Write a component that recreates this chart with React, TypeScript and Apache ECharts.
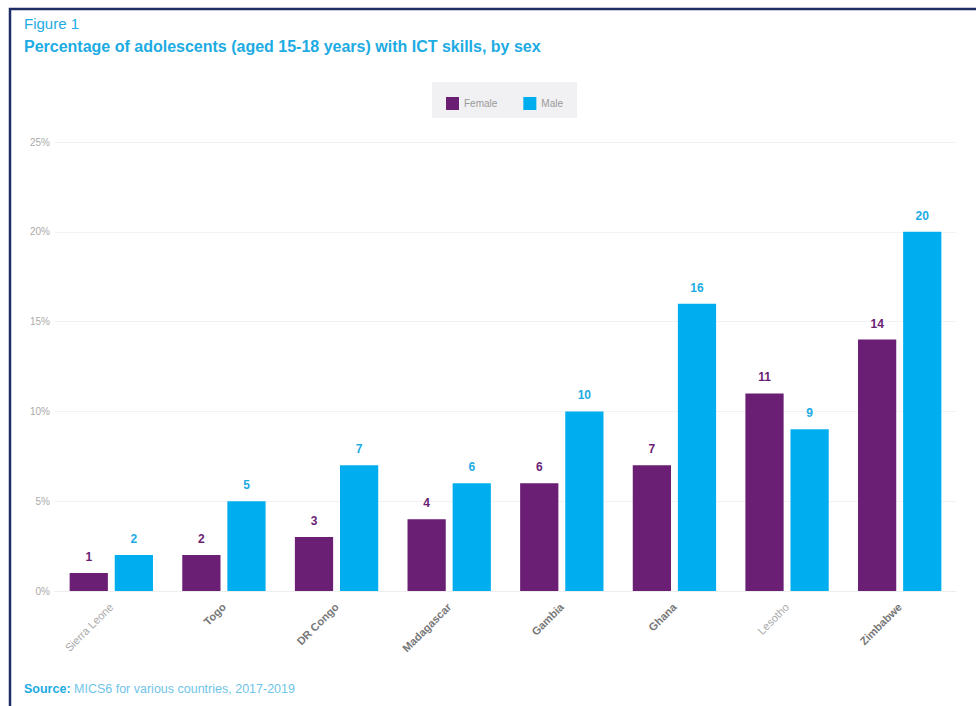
import React, { useEffect, useRef } from "react";
import * as echarts from "echarts";

const countries = ["Sierra Leone", "Togo", "DR Congo", "Madagascar", "Gambia", "Ghana", "Lesotho", "Zimbabwe"];
const femaleValues = [1, 2, 3, 4, 6, 7, 11, 14];
const maleValues = [2, 5, 7, 6, 10, 16, 9, 20];
const lightLabels = ["Sierra Leone", "Lesotho"];

const PURPLE = "#6A1E74";
const CYAN = "#00AEEF";
const TITLE_CYAN = "#1CABE2";
const FONT = "Liberation Sans, Arial, sans-serif";

export default function App() {
  const ref = useRef<HTMLDivElement>(null);
  useEffect(() => {
    if (!ref.current) return;
    const chart = echarts.init(ref.current, undefined, { renderer: "svg" });
    chart.setOption({
      animation: false,
      backgroundColor: "#ffffff",
      textStyle: { fontFamily: FONT },
      graphic: [
        {
          type: "rect",
          shape: { x: 10, y: 9, width: 1000, height: 1000 },
          style: { fill: "none", stroke: "#1F2F66", lineWidth: 2.5 },
          silent: true,
        },
        {
          type: "text",
          left: 24,
          top: 16,
          style: { text: "Figure 1", fill: TITLE_CYAN, fontSize: 15, fontFamily: FONT },
        },
        {
          type: "text",
          left: 24,
          top: 38,
          style: {
            text: "Percentage of adolescents (aged 15-18 years) with ICT skills, by sex",
            fill: TITLE_CYAN,
            fontSize: 16,
            fontWeight: "bold",
            fontFamily: FONT,
          },
        },
        {
          type: "rect",
          shape: { x: 432, y: 82, width: 145, height: 36 },
          style: { fill: "#F1F1F3" },
          silent: true,
          z: -1,
        },
        {
          type: "text",
          left: 24,
          top: 682,
          style: {
            rich: {
              b: { fontWeight: "bold", fill: TITLE_CYAN, fontSize: 12.5, fontFamily: FONT },
              n: { fill: "#6FC4E8", fontSize: 12.5, fontFamily: FONT },
            },
            text: "{b|Source:}{n| MICS6 for various countries, 2017-2019}",
          },
        },
      ],
      legend: {
        top: 92,
        left: 441,
        icon: "rect",
        itemWidth: 13,
        itemHeight: 13,
        itemGap: 26,
        textStyle: { color: "#999", fontSize: 10 },
        data: ["Female", "Male"],
      },
      grid: { left: 55, right: 20, top: 142, bottom: 115 },
      xAxis: {
        type: "category",
        data: countries.map((c) => ({
          value: c,
          textStyle: lightLabels.includes(c)
            ? { color: "#aaa", fontWeight: "normal" }
            : { color: "#777", fontWeight: "bold" },
        })),
        axisLine: { show: true, lineStyle: { color: "#eee" } },
        axisTick: { show: false },
        axisLabel: { rotate: 45, fontSize: 11, margin: 14, interval: 0 },
      },
      yAxis: {
        type: "value",
        min: 0,
        max: 25,
        interval: 5,
        axisLabel: { formatter: "{value}%", color: "#aaa", fontSize: 10, margin: 5 },
        splitLine: { lineStyle: { color: "#f2f2f2" } },
        axisLine: { show: false },
        axisTick: { show: false },
      },
      series: [
        {
          name: "Female",
          type: "bar",
          data: femaleValues,
          barGap: "18%",
          barCategoryGap: "26%",
          itemStyle: { color: PURPLE },
          label: { show: true, position: "top", distance: 10, color: PURPLE, fontWeight: "bold", fontSize: 12 },
        },
        {
          name: "Male",
          type: "bar",
          data: maleValues,
          itemStyle: { color: CYAN },
          label: { show: true, position: "top", distance: 10, color: TITLE_CYAN, fontWeight: "bold", fontSize: 12 },
        },
      ],
    });
    return () => chart.dispose();
  }, []);
  return <div ref={ref} style={{ position: "absolute", left: 0, top: 0, width: 976, height: 706 }} />;
}
